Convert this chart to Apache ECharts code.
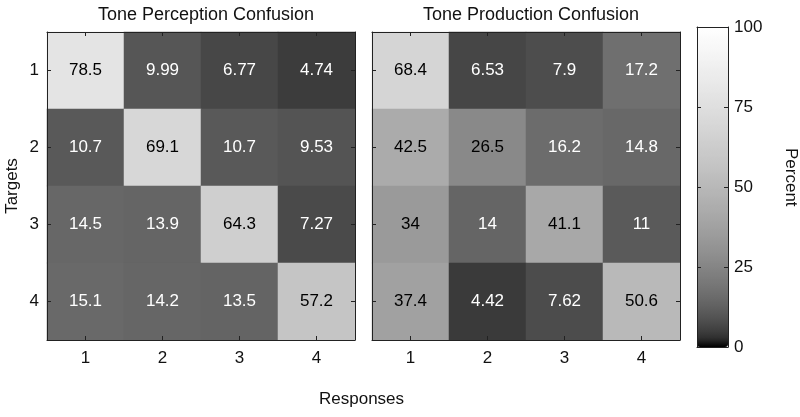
<!DOCTYPE html>
<html><head><meta charset="utf-8">
<script src="https://cdn.jsdelivr.net/npm/echarts@6/dist/echarts.min.js"></script>
<style>html,body{margin:0;padding:0;background:#fff}#c{width:800px;height:417px}</style>
</head><body><div id="c"></div>
<script>
const responses = ['1','2','3','4'];
const targets = ['1','2','3','4'];
// rows = targets 1..4, columns = responses 1..4
const perception = [
  [78.5, 9.99, 6.77, 4.74],
  [10.7, 69.1, 10.7, 9.53],
  [14.5, 13.9, 64.3, 7.27],
  [15.1, 14.2, 13.5, 57.2]
];
const production = [
  [68.4, 6.53, 7.9, 17.2],
  [42.5, 26.5, 16.2, 14.8],
  [34, 14, 41.1, 11],
  [37.4, 4.42, 7.62, 50.6]
];
const titles = ['Tone Perception Confusion', 'Tone Production Confusion'];
const colorbarTicks = [0, 25, 50, 75, 100];

const FONT = 'Liberation Sans, Arial, sans-serif';
const FS = 17;

function toData(m) {
  const out = [];
  m.forEach((row, r) => row.forEach((v, c) => {
    out.push({value: [c, r, v], label: {color: v < 20 ? '#fff' : '#000'}});
  }));
  return out;
}
// grayscale colormap, brightened
const stops = [];
for (let i = 0; i <= 40; i++) {
  const g = Math.round(255 * Math.pow(i / 40, 0.47));
  stops.push('rgb(' + g + ',' + g + ',' + g + ')');
}

const grids = [
  {left: 47, top: 32, width: 308, height: 308},
  {left: 372, top: 32, width: 308, height: 308},
  {left: 697, top: 27, width: 31, height: 320}
];
const lineStyle = {color: '#222', width: 1};
const xAxes = [], yAxes = [];
[0, 1].forEach(g => {
  xAxes.push({type: 'category', data: responses, gridIndex: g, position: 'bottom', z: 10,
    axisLine: {show: true, lineStyle}, axisTick: {show: true, inside: true, alignWithLabel: true, length: 4, lineStyle},
    axisLabel: {fontSize: FS, fontFamily: FONT, color: '#111', margin: 10}, splitLine: {show: false}});
  xAxes.push({type: 'category', data: responses, gridIndex: g, position: 'top', z: 10,
    axisLine: {show: true, lineStyle}, axisTick: {show: true, inside: true, alignWithLabel: true, length: 4, lineStyle},
    axisLabel: {show: false}, splitLine: {show: false}});
  yAxes.push({type: 'category', data: targets, gridIndex: g, inverse: true, position: 'left', z: 10,
    name: g === 0 ? 'Targets' : '', nameLocation: 'middle', nameGap: 26, nameRotate: 90,
    nameTextStyle: {fontSize: FS, fontFamily: FONT, color: '#111'},
    axisLine: {show: true, lineStyle}, axisTick: {show: true, inside: true, alignWithLabel: true, length: 4, lineStyle},
    axisLabel: {show: g === 0, fontSize: FS, fontFamily: FONT, color: '#111', margin: 8}, splitLine: {show: false}});
  yAxes.push({type: 'category', data: targets, gridIndex: g, inverse: true, position: 'right', z: 10,
    axisLine: {show: true, lineStyle}, axisTick: {show: true, inside: true, alignWithLabel: true, length: 4, lineStyle},
    axisLabel: {show: false}, splitLine: {show: false}});
});
// colorbar axes
xAxes.push({type: 'value', gridIndex: 2, min: 0, max: 1, position: 'bottom', z: 10,
  axisLine: {show: true, onZero: false, lineStyle}, axisTick: {show: false}, axisLabel: {show: false}, splitLine: {show: false}});
xAxes.push({type: 'value', gridIndex: 2, min: 0, max: 1, position: 'top', z: 10,
  axisLine: {show: true, onZero: false, lineStyle}, axisTick: {show: false}, axisLabel: {show: false}, splitLine: {show: false}});
yAxes.push({type: 'value', gridIndex: 2, min: colorbarTicks[0], max: colorbarTicks[colorbarTicks.length - 1], interval: 25, position: 'right', z: 10,
  axisLine: {show: true, onZero: false, lineStyle}, axisTick: {show: true, inside: true, length: 4, lineStyle},
  axisLabel: {fontSize: FS, fontFamily: FONT, color: '#111', margin: 6}, splitLine: {show: false}});
yAxes.push({type: 'value', gridIndex: 2, min: colorbarTicks[0], max: colorbarTicks[colorbarTicks.length - 1], interval: 25, position: 'left', z: 10,
  axisLine: {show: true, onZero: false, lineStyle}, axisTick: {show: true, inside: true, length: 4, lineStyle},
  axisLabel: {show: false}, splitLine: {show: false}});

const series = [perception, production].map((m, i) => ({
  type: 'heatmap', xAxisIndex: i * 2, yAxisIndex: i * 2, data: toData(m),
  label: {show: true, fontSize: FS, fontFamily: FONT, formatter: p => String(p.value[2])},
  itemStyle: {borderWidth: 0}, emphasis: {disabled: true}
}));

const chart = echarts.init(document.getElementById('c'), null, {renderer: 'canvas'});
chart.setOption({
  animation: false,
  backgroundColor: '#fff',
  title: titles.map((t, i) => ({
    text: t, left: (i === 0 ? 201 : 526), top: 1, textAlign: 'center',
    textStyle: {fontSize: 18, fontWeight: 'normal', fontFamily: FONT, color: '#111'}
  })),
  grid: grids,
  xAxis: xAxes,
  yAxis: yAxes,
  visualMap: {
    type: 'continuous', min: 0, max: 100, seriesIndex: [0, 1], calculable: false, hoverLink: false,
    show: true, left: 697, top: 27, itemWidth: 31, itemHeight: 320, padding: 0, text: null, showLabel: false,
    inRange: {color: stops}
  },
  graphic: [
    {type: 'text', left: 319, top: 391, style: {text: 'Responses', font: FS + 'px ' + FONT, fill: '#111'}, z: 20},
    {type: 'text', x: 799, y: 148, rotation: -Math.PI / 2, style: {text: 'Percent', font: FS + 'px ' + FONT, fill: '#111'}, z: 20}
  ],
  series
});
</script></body></html>
